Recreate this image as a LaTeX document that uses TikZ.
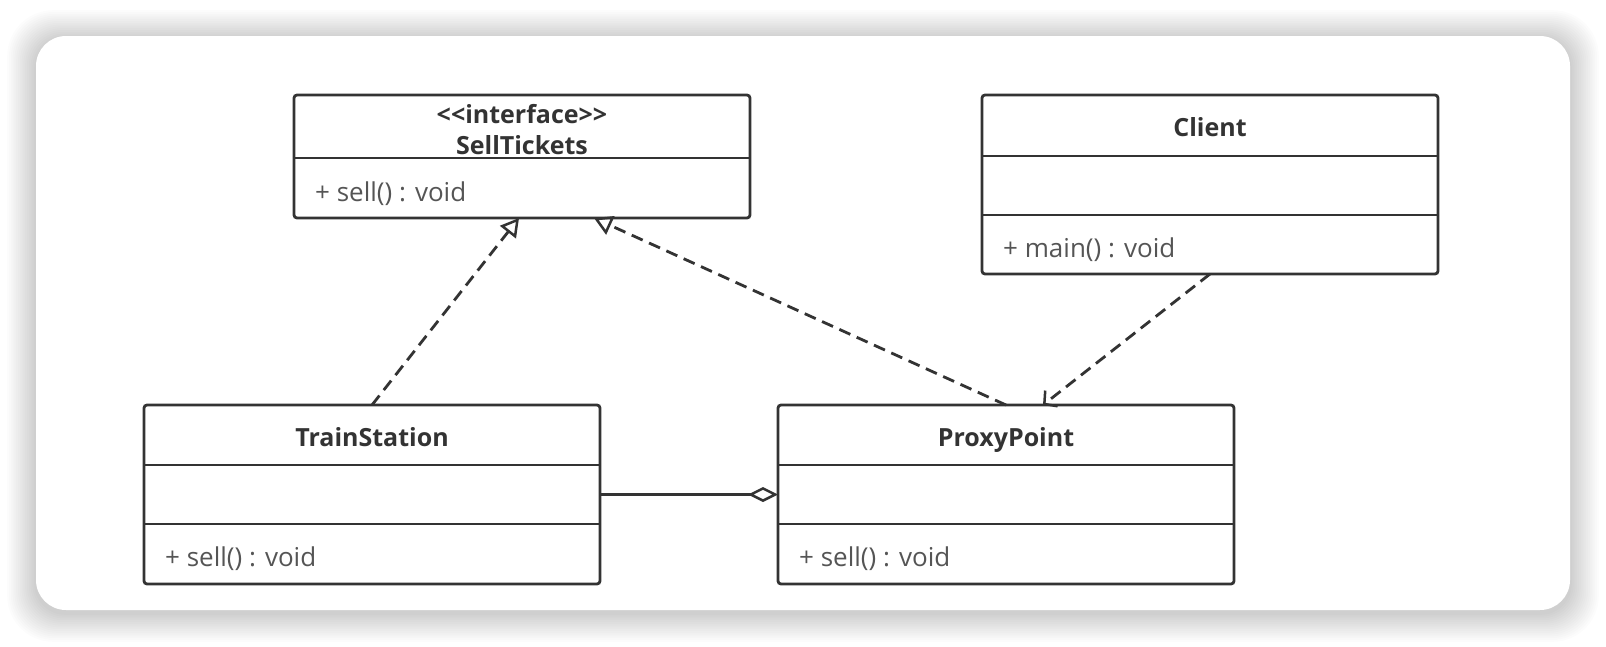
\documentclass[tikz,border=0pt]{standalone}
\usepackage{fontspec}
\setmainfont{Open Sans}
\usetikzlibrary{arrows.meta}

\definecolor{umlline}{HTML}{333333}
\definecolor{umltext}{HTML}{555555}

\tikzset{
  classbox/.style={draw=umlline, line width=2.8pt, rounded corners=3pt, fill=white,
    minimum width=456pt, inner sep=0pt, outer sep=0pt},
  classname/.style={font=\bfseries\fontsize{25}{28}\selectfont, text=umlline,
    text height=0.72em, text depth=0pt},
  member/.style={font=\fontsize{26}{28}\selectfont, text=umltext, anchor=west, inner sep=0pt},
  divider/.style={draw=umlline, line width=2.8pt},
  realize/.style={draw=umlline, line width=2.8pt, dash pattern=on 12pt off 7pt,
    -{Triangle[open, length=18pt, width=20pt, line width=2.5pt]}},
  depend/.style={draw=umlline, line width=2.8pt, dash pattern=on 12pt off 7pt,
    -{Straight Barb[length=9pt, width=20pt, line width=2.5pt]}},
  aggregate/.style={draw=umlline, line width=2.8pt,
    -{Diamond[open, length=30pt, width=15pt, line width=2.5pt]}}
}

\begin{document}
\begin{tikzpicture}[x=1pt, y=-1pt]
  \useasboundingbox (0,0) rectangle (1606,646);
  \fill[white] (0,0) rectangle (1606,646);
  % card with soft shadow
  \foreach \i in {16,15,...,1}
    \fill[black, opacity=0.011, rounded corners=30+\i]
      (36-1.8*\i,36-1.8*\i+3) rectangle (1570+1.8*\i,610+1.8*\i+3);
  \fill[white, rounded corners=30pt] (36,36) rectangle (1570,610);

  % classes
  \node[classbox, minimum height=123pt] (sell) at (522,156.5) {};
  \node[classbox, minimum height=179pt] (client) at (1210,184.5) {};
  \node[classbox, minimum height=179pt] (train) at (372,494.5) {};
  \node[classbox, minimum height=179pt] (proxy) at (1006,494.5) {};

  \draw[divider] (sell.west |- 0,158) -- (sell.east |- 0,158);
  \foreach \y in {156,215} \draw[divider] (client.west |- 0,\y) -- (client.east |- 0,\y);
  \foreach \y in {465,524} {
    \draw[divider] (train.west |- 0,\y) -- (train.east |- 0,\y);
    \draw[divider] (proxy.west |- 0,\y) -- (proxy.east |- 0,\y);
  }

  \node[classname] (sellstereo) at (522,120) {<{}<interface>{}>};
  \node[classname] (selltitle) at (522,151) {SellTickets};
  \node[member] (sellop) at (315,194) {+ sell() : void};

  \node[classname] (clienttitle) at (1210,133) {Client};
  \node[member] (clientop) at (1003,250) {+ main() : void};

  \node[classname] (traintitle) at (372,443) {TrainStation};
  \node[member] (trainop) at (165,559) {+ sell() : void};

  \node[classname] (proxytitle) at (1006,443) {ProxyPoint};
  \node[member] (proxyop) at (799,559) {+ sell() : void};

  % relations
  \coordinate (sellA) at (519,218);
  \coordinate (sellB) at (594,218);
  \coordinate (proxyTop) at (1043,405);
  \draw[realize] (train.north) -- (sellA);
  \draw[realize] (proxy.north) -- (sellB);
  \draw[depend] (client.south) -- (proxyTop);
  \draw[aggregate] (train.east) -- (proxy.west);
\end{tikzpicture}
\end{document}
